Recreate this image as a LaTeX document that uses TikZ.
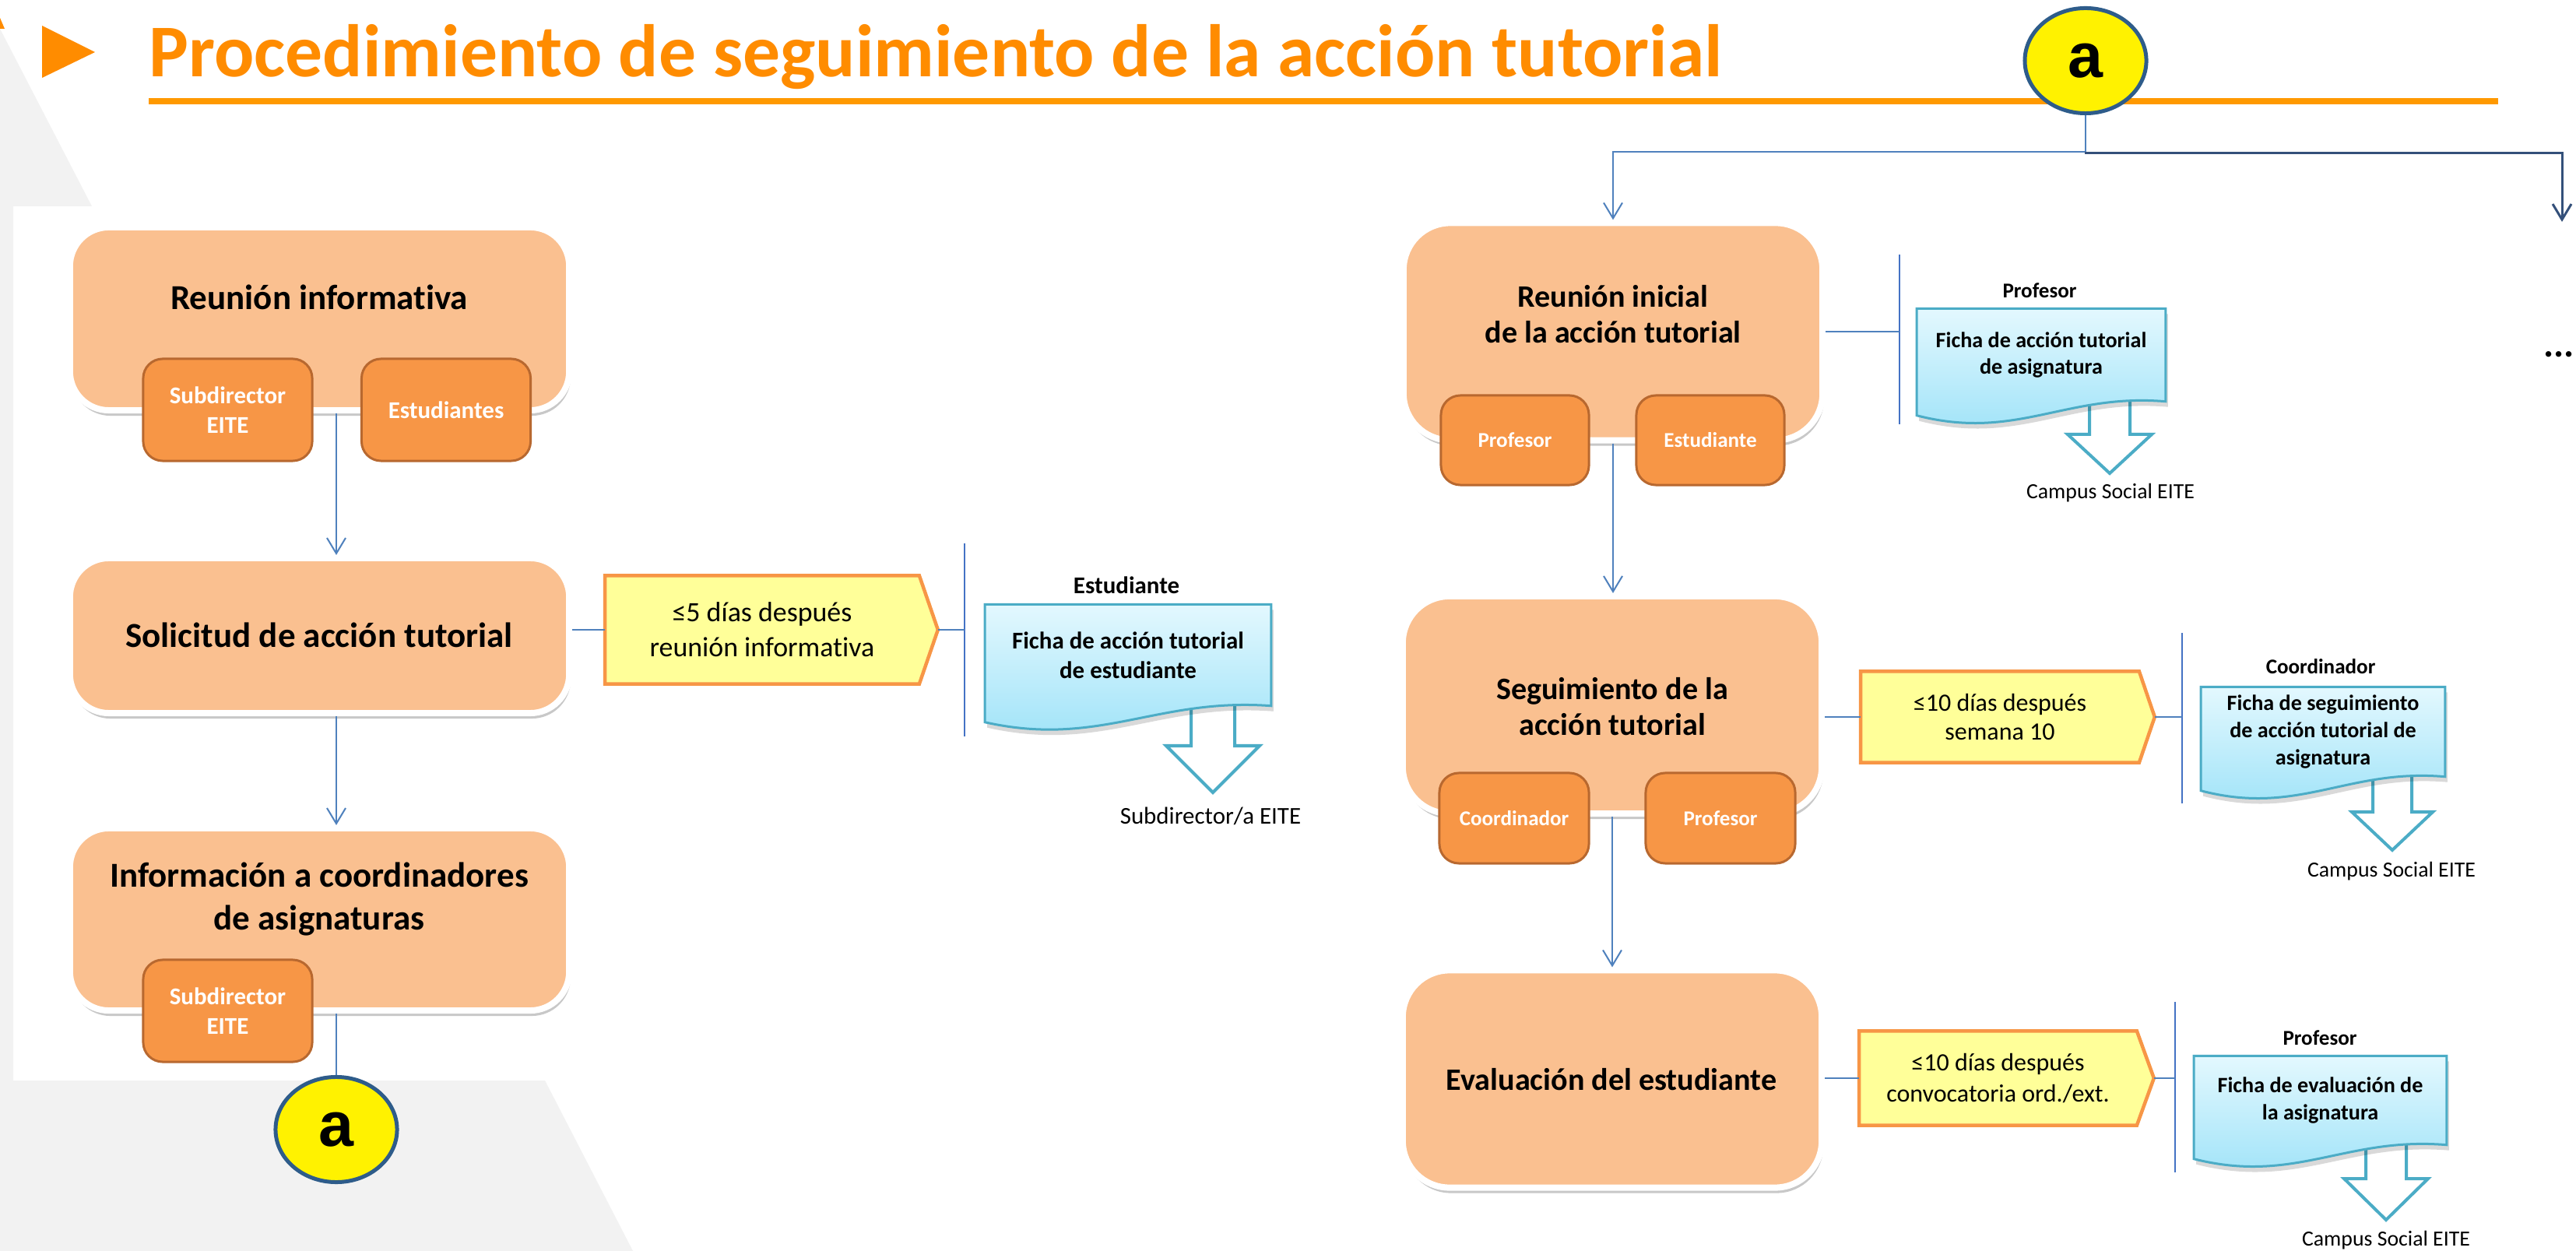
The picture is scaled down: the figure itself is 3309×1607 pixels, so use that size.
\documentclass[tikz,border=0pt]{standalone}
\usepackage{fontspec}
\setmainfont{Carlito}[Ligatures={TeX,NoCommon}]
\newfontfamily\arialf{Liberation Sans}
\usetikzlibrary{arrows.meta,shapes.geometric,calc,shadows}
\pgfdeclarelayer{bg}
\pgfdeclarelayer{shp}
\pgfsetlayers{bg,shp,main}
\definecolor{titleor}{HTML}{FF8C00}
\definecolor{lineor}{HTML}{FF9900}
\definecolor{bggray}{HTML}{F2F2F2}
\definecolor{peach}{HTML}{FAC090}
\definecolor{subfill}{HTML}{F79646}
\definecolor{subdraw}{HTML}{B8682F}
\definecolor{yfill}{HTML}{FFFF99}
\definecolor{ydraw}{HTML}{F79646}
\definecolor{blueline}{HTML}{4F81BD}
\definecolor{sepblue}{HTML}{4472C4}
\definecolor{docT}{HTML}{E3F8FE}
\definecolor{docB}{HTML}{9CE2F8}
\definecolor{docdraw}{HTML}{4BACC6}
\definecolor{elldraw}{HTML}{2E5C8A}
\definecolor{darkline}{HTML}{34507A}
\newcommand\docshape[2]{%
  \fill[black,opacity=0.15,transform canvas={shift={(3,7)}}] (#1.north west) -- (#1.north east) -- (#1.south east) .. controls ($(#1.south west)!0.6!(#1.south east)+(0,-11)$) and ($(#1.south west)!0.4!(#1.south east)+(0,#2+33)$) .. ($(#1.south west)+(0,#2)$) -- cycle;
  \shadedraw[top color=docT,bottom color=docB,draw=docdraw,line width=0.03cm] (#1.north west) -- (#1.north east) -- (#1.south east) .. controls ($(#1.south west)!0.6!(#1.south east)+(0,-11)$) and ($(#1.south west)!0.4!(#1.south east)+(0,#2+33)$) .. ($(#1.south west)+(0,#2)$) -- cycle;}
% #1 mid x, #2 top, #3 tip, #4 base, #5 shaft half, #6 head half
\newcommand\blockarr[6]{%
  \filldraw[barrow] (#1-#5,#2) -- (#1-#5,#4) -- (#1-#6,#4) -- (#1,#3) -- (#1+#6,#4) -- (#1+#5,#4) -- (#1+#5,#2);}
\newcommand\yshape[1]{%
  \filldraw[yshp] (#1.north west) -- (#1.north east) -- (#1tip) -- (#1.south east) -- (#1.south west) -- cycle;}
\begin{document}
\begin{tikzpicture}[x=0.01cm,y=-0.01cm,
  mainbox/.style={draw=white,line width=0.08cm,fill=peach,rounded corners=0.5cm,inner sep=0,
    minimum width=6.41cm,drop shadow={shadow xshift=0.02cm,shadow yshift=-0.07cm,fill=black!70,opacity=0.3}},
  rbox/.style={mainbox,rounded corners=0.6cm,minimum width=5.38cm,minimum height=2.79cm},
  subbox/.style={draw=subdraw,fill=subfill,line width=0.03cm,rounded corners=0.25cm,inner sep=0,
    text=white,align=center},
  lsub/.style={subbox,minimum width=2.17cm,minimum height=1.31cm,font=\bfseries\fontsize{8.8pt}{10.8pt}\selectfont},
  rsub/.style={subbox,minimum width=1.9cm,minimum height=1.15cm,font=\bfseries\fontsize{7.7pt}{9.5pt}\selectfont},
  ltitle/.style={inner sep=0,align=center,font=\bfseries\fontsize{12.8pt}{15.9pt}\selectfont},
  rtitle/.style={inner sep=0,align=center,font=\bfseries\fontsize{11.4pt}{13.3pt}\selectfont},
  ybox/.style={inner sep=0,align=center},
  yshp/.style={fill=yfill,draw=ydraw,line width=0.045cm,line join=miter},
  docnode/.style={inner sep=0,align=center},
  conn/.style={draw=blueline,line width=0.02cm,-{Straight Barb[length=0.2cm,width=0.24cm]}},
  plainline/.style={draw=blueline,line width=0.02cm},
  sepline/.style={draw=sepblue,line width=0.025cm},
  barrow/.style={draw=docdraw,line width=0.04cm,fill=white,line join=miter},
  aell/.style={ellipse,draw=elldraw,fill=yellow,line width=0.05cm,minimum width=1.56cm,minimum height=1.35cm,
    inner sep=0,font=\arialf\bfseries\fontsize{23pt}{23pt}\selectfont},
  plaintext/.style={inner sep=0,align=center}
]
\useasboundingbox (0,0) rectangle (3309,1607);
% background
\begin{pgfonlayer}{bg}
\fill[white] (0,0) rectangle (3309,1607);
\fill[bggray] (0,37) -- (118,265) -- (17,265) -- (17,1388) -- (700,1388) -- (813,1607) -- (0,1607) -- cycle;
\fill[titleor] (0,23) -- (6,37) -- (0,37) -- cycle;
\end{pgfonlayer}
% title
\fill[titleor] (54,33) -- (122,67) -- (54,100) -- cycle;
\node[anchor=base west,inner sep=0,text=titleor,font=\bfseries\fontsize{27.2pt}{30pt}\selectfont] (title) at (191,99) {Procedimiento de seguimiento de la acción tutorial};
\fill[lineor] (191,126) rectangle (3209,134);

% ---------- left column ----------
\node[mainbox,minimum height=2.35cm] (b1) at (410.5,409.5) {};
\node[lsub] (b1s) at (292.5,526.5) {Subdirector\\EITE};
\node[lsub] (b1e) at (573,526.5) {Estudiantes};
\node[ltitle] (b1t) at (410,382) {Reunión informativa};

\node[mainbox,minimum height=1.99cm] (b2) at (410.5,816.5) {};
\node[ltitle] (b2t) at (410,816) {Solicitud de acción tutorial};

\node[mainbox,minimum height=2.34cm] (b3) at (410.5,1181) {};
\node[ltitle] (b3t) at (410,1155) {Información a coordinadores\\de asignaturas};
\node[lsub] (b3s) at (292.5,1298.5) {Subdirector\\EITE};

\node[aell] (abot) at (432,1451) {a};

\draw[conn] (b1.south -| abot) -- (b2.north -| abot);
\draw[conn] (b2.south -| abot) -- (b3.north -| abot);
\draw[plainline] (b3.south -| abot) -- (abot.north);

% yellow 1
\node[ybox,minimum width=4.02cm,minimum height=1.38cm,font=\fontsize{10.2pt}{12.8pt}\selectfont] (y1) at (979,809) {≤5 días después\\reunión informativa};
\coordinate (y1tip) at ($(y1.east)+(24,0)$);
\begin{pgfonlayer}{shp}\yshape{y1}\end{pgfonlayer}
\coordinate (s1top) at (1239,698);
\coordinate (s1bot) at (1239,946);
\draw[sepline] (s1top) -- (s1bot);
\draw[plainline] (y1.west -| b2.east) -- (y1.west);
\draw[plainline] (y1tip) -- (y1tip -| s1top);

% doc 1
\node[docnode,minimum width=3.66cm,minimum height=1.29cm,font=\bfseries\fontsize{8.8pt}{10.8pt}\selectfont] (d1) at (1449,841.5) {Ficha de acción tutorial\\de estudiante};
\node[plaintext,font=\bfseries\fontsize{8.8pt}{10.8pt}\selectfont] (d1l) at (1447,752) {Estudiante};
\node[plaintext,font=\fontsize{8.8pt}{10.8pt}\selectfont] (d1c) at (1555,1048) {Subdirector/a EITE};
\begin{pgfonlayer}{shp}
\blockarr{1558}{895}{1018}{958}{28}{60}
\docshape{d1}{21}
\end{pgfonlayer}

% ---------- right column ----------
\node[aell] (atop) at (2679,78) {a};
\coordinate (br) at (2679,195);
\coordinate (rend) at (3291,285);
\node[plaintext,font=\bfseries\fontsize{14pt}{14pt}\selectfont] (dots) at (3287,455) {...};

\node[rbox] (r1) at (2072,426) {};
\node[rsub] (r1p) at (1946,565.5) {Profesor};
\node[rsub] (r1e) at (2197,565.5) {Estudiante};
\node[rtitle] (r1t) at (2072,403.5) {Reunión inicial\\de la acción tutorial};

\node[rbox] (r2) at (2071,905.5) {};
\node[rsub,minimum width=1.92cm,minimum height=1.16cm] (r2c) at (1945,1051) {Coordinador};
\node[rsub,minimum width=1.92cm,minimum height=1.16cm] (r2p) at (2210,1051) {Profesor};
\node[rtitle] (r2t) at (2071,907.5) {Seguimiento de la\\acción tutorial};

\node[rbox] (r3) at (2071,1386) {};
\node[rtitle] (r3t) at (2070,1387) {Evaluación del estudiante};

\draw[plainline] (atop.south) -- (br);
\draw[conn] (br) -| (r1.north);
\draw[darkline,line width=0.03cm,-{Straight Barb[length=0.2cm,width=0.24cm]}] (br) -- ++(0,2) -| (rend);
\draw[conn] (r1.south) -- (r1.south |- r2.north);
\draw[conn] (r2.south) -- (r2.south |- r3.north);

% R1 document
\coordinate (s2top) at (2440,327);
\coordinate (s2bot) at (2440,545);
\draw[sepline] (s2top) -- (s2bot);
\draw[plainline] (r1.east) -- (r1.east -| s2top);
\node[docnode,minimum width=3.18cm,minimum height=1.18cm,font=\bfseries\fontsize{8pt}{9.9pt}\selectfont] (d2) at (2622,456) {Ficha de acción tutorial\\de asignatura};
\node[plaintext,font=\bfseries\fontsize{7.7pt}{9pt}\selectfont] (d2l) at (2620,373) {Profesor};
\node[plaintext,font=\fontsize{7.9pt}{9pt}\selectfont] (d2c) at (2711,633) {Campus Social EITE};
\begin{pgfonlayer}{shp}
\blockarr{2710}{505}{608}{558}{26}{54}
\docshape{d2}{18}
\end{pgfonlayer}

% R2 yellow + document
\node[ybox,minimum width=3.56cm,minimum height=1.16cm,font=\fontsize{9.1pt}{10.8pt}\selectfont] (y2) at (2569,921) {≤10 días después\\semana 10};
\coordinate (y2tip) at ($(y2.east)+(20,0)$);
\begin{pgfonlayer}{shp}\yshape{y2}\end{pgfonlayer}
\coordinate (s3top) at (2803,813);
\coordinate (s3bot) at (2803,1032);
\draw[sepline] (s3top) -- (s3bot);
\draw[plainline] (y2.west -| r2.east) -- (y2.west);
\draw[plainline] (y2tip) -- (y2tip -| s3top);
\node[docnode,minimum width=3.12cm,minimum height=1.14cm,font=\bfseries\fontsize{8pt}{9.9pt}\selectfont] (d3) at (2984,940) {Ficha de seguimiento\\de acción tutorial de\\asignatura};
\node[plaintext,font=\bfseries\fontsize{7.7pt}{9pt}\selectfont] (d3l) at (2981,856) {Coordinador};
\node[plaintext,font=\fontsize{7.9pt}{9pt}\selectfont] (d3c) at (3072,1119) {Campus Social EITE};
\begin{pgfonlayer}{shp}
\blockarr{3073}{990}{1092}{1043}{25}{52}
\docshape{d3}{18}
\end{pgfonlayer}

% R3 yellow + document
\node[ybox,minimum width=3.55cm,minimum height=1.2cm,font=\fontsize{9.1pt}{11.2pt}\selectfont] (y3) at (2566.5,1385) {≤10 días después\\convocatoria ord./ext.};
\coordinate (y3tip) at ($(y3.east)+(22,0)$);
\begin{pgfonlayer}{shp}\yshape{y3}\end{pgfonlayer}
\coordinate (s4top) at (2794,1287);
\coordinate (s4bot) at (2794,1506);
\draw[sepline] (s4top) -- (s4bot);
\draw[plainline] (y3.west -| r3.east) -- (y3.west);
\draw[plainline] (y3tip) -- (y3tip -| s4top);
\node[docnode,minimum width=3.23cm,minimum height=1.13cm,font=\bfseries\fontsize{8pt}{9.9pt}\selectfont] (d4) at (2980.5,1413.5) {Ficha de evaluación de\\la asignatura};
\node[plaintext,font=\bfseries\fontsize{7.7pt}{9pt}\selectfont] (d4l) at (2980,1333) {Profesor};
\node[plaintext,font=\fontsize{7.9pt}{9pt}\selectfont] (d4c) at (3065,1593) {Campus Social EITE};
\begin{pgfonlayer}{shp}
\blockarr{3065}{1465}{1567}{1514}{26}{54}
\docshape{d4}{18}
\end{pgfonlayer}
\end{tikzpicture}
\end{document}
